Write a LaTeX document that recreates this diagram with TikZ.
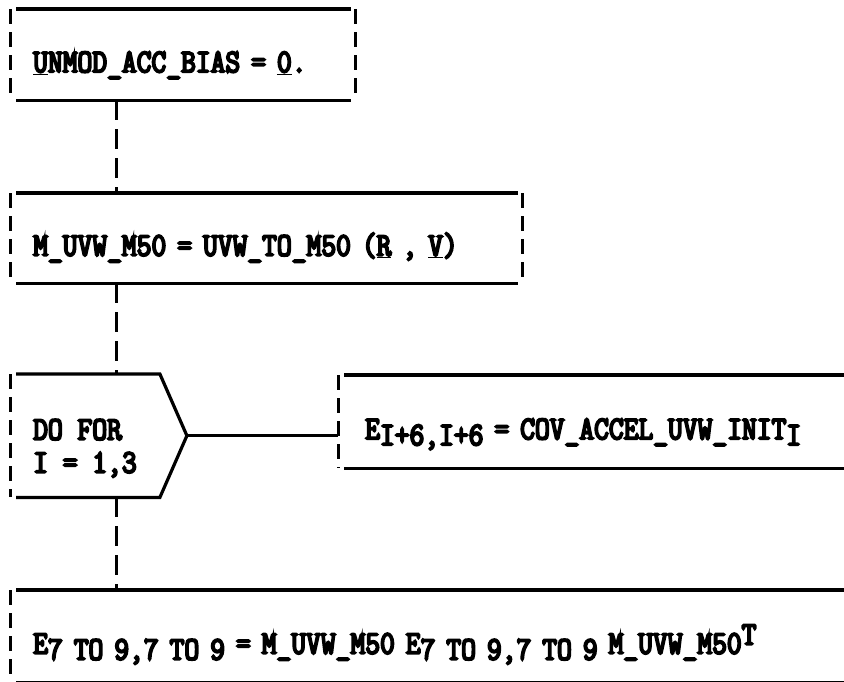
\documentclass[tikz,border=0pt]{standalone}
\usepackage{fontspec}
\newfontfamily\typer{Latin Modern Mono}[FakeStretch=0.87,FakeBold=6]
\newcommand{\lowr}[1]{\raisebox{-6pt}{#1}}
\newcommand{\upr}[1]{\raisebox{9pt}{#1}}
\begin{document}
\begin{tikzpicture}[x=1pt,y=-1pt,box/.style={anchor=north west,align=left,inner xsep=23pt,inner ysep=0pt,text height=35pt,text depth=0pt,font=\typer\fontsize{33pt}{33pt}\selectfont},edge/.style={line width=3.2pt,shorten <=6pt,shorten >=4pt},side/.style={line width=3pt,dash pattern=on 15pt off 8pt},link/.style={line width=3pt,dash pattern=on 20pt off 9pt}]
\useasboundingbox (0,0) rectangle (844,681);
\node[box,minimum width=345pt,minimum height=91pt,text width=299pt] (bias) at (10,9) {\underline{U}NMOD\_ACC\_BIAS = \underline{0}.};
\node[box,minimum width=512pt,minimum height=90pt,text width=466pt] (xform) at (10,193) {M\_UVW\_M50 = UVW\_TO\_M50 (\underline{R} , \underline{V})};
\node[box,minimum width=145pt,minimum height=123pt,text height=74pt] (loop) at (10,374) {DO FOR\\I = 1,3};
\node[box,inner xsep=27pt,minimum height=93pt,text width=520pt] (init) at (338,375) {E\lowr{I+6,I+6} = COV\_ACCEL\_UVW\_INIT\lowr{I}};
\node[box,minimum height=92pt,text width=860pt] (prop) at (10,590) {E\lowr{7 TO 9,7 TO 9} = M\_UVW\_M50 E\lowr{7 TO 9,7 TO 9} M\_UVW\_M50\upr{T}};
\coordinate (tip) at ([xshift=27pt]loop.east);
\coordinate (spine) at (116,0);
\foreach \b in {bias,xform}
  \draw[side] (\b.north east) -- (\b.south east);
\foreach \b in {bias,xform,loop,init,prop}
  \draw[side] (\b.north west) -- (\b.south west);
\foreach \b in {bias,xform,init,prop} {
  \draw[edge] (\b.north west) -- (\b.north east);
  \draw[edge] (\b.south west) -- (\b.south east);
}
\draw[edge,shorten >=6pt] (loop.north west) -- (loop.north east) -- (tip) -- (loop.south east) -- (loop.south west);
\draw[link] (bias.south -| spine) -- (xform.north -| spine);
\draw[link] (xform.south -| spine) -- (loop.north -| spine);
\draw[link] (loop.south -| spine) -- (prop.north -| spine);
\draw[edge,shorten <=0pt,shorten >=0pt] (tip) -- (init.west |- tip);
\end{tikzpicture}
\end{document}
